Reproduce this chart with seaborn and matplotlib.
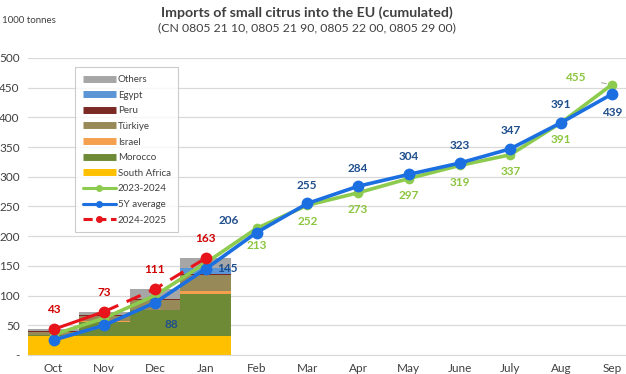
import numpy as np
import pandas as pd
import matplotlib
matplotlib.use("Agg")
import matplotlib.pyplot as plt
from matplotlib.lines import Line2D
import seaborn as sns

months = ['Oct', 'Nov', 'Dec', 'Jan', 'Feb', 'Mar', 'Apr', 'May', 'June', 'July', 'Aug', 'Sep']

# 2024-2025 imports by origin, Oct-Jan (1000 t, cumulated)
south_africa = [32, 32, 32, 32]
morocco = [1, 24, 43, 70]
israel = [0, 1, 1, 6]
turkiye = [5, 8, 16, 26]
peru = [2, 2, 2, 2]
egypt = [0, 1, 1, 11]
others = [3, 5, 16, 16]

season_2324 = [34, 62, 100, 155, 213, 252, 273, 297, 319, 337, 391, 455]
avg_5y = [25, 50, 88, 145, 206, 255, 284, 304, 323, 347, 391, 439]
season_2425 = [43, 73, 111, 163]

origins = ['South Africa', 'Morocco', 'Israel', 'Türkiye', 'Peru', 'Egypt', 'Others']
colors = {'South Africa': '#FFC000', 'Morocco': '#6F8A36', 'Israel': '#F4A04F',
          'Türkiye': '#988A58', 'Peru': '#7A2A22', 'Egypt': '#5B95D5', 'Others': '#A6A6A6'}

df = pd.DataFrame({'South Africa': south_africa, 'Morocco': morocco, 'Israel': israel,
                   'Türkiye': turkiye, 'Peru': peru, 'Egypt': egypt, 'Others': others})
df['x'] = np.arange(len(df))
cum = df[origins].cumsum(axis=1)

sns.set_style('white')
plt.rcParams['font.family'] = ['Lato', 'DejaVu Sans']
fig = plt.figure(figsize=(6.26, 3.74), dpi=100)
ax = fig.add_axes([0.045, 0.051, 0.955, 0.794])

# stacked bars: draw cumulative totals, tallest first
for name in reversed(origins):
    sns.barplot(x=df['x'], y=cum[name], color=colors[name], width=1.0,
                saturation=1, linewidth=0, edgecolor='none', ax=ax, zorder=2)

xs = np.arange(len(months))
green = '#8DCB4F'
blue = '#1B6FE0'
red = '#E8141B'

sns.lineplot(x=xs, y=season_2324, color=green, lw=2.6, marker='o', ms=7,
             markeredgewidth=0, ax=ax, zorder=4)
sns.lineplot(x=xs, y=avg_5y, color=blue, lw=2.6, marker='o', ms=8.5,
             markeredgewidth=0, ax=ax, zorder=5)
x25 = xs[:len(season_2425)]
ax.plot(x25[:2], season_2425[:2], color=red, lw=2.2, zorder=6)
ax.plot(x25[1:], season_2425[1:], color=red, lw=2.2, ls=(0, (5, 3)), zorder=6)
ax.plot(x25, season_2425, 'o', color=red, ms=8.5, markeredgewidth=0, zorder=7)

# data labels
dk_blue = '#1F4E8C'
lbl_green = '#8CC63F'
dk_red = '#D00000'
fs = 8.5
for i, v in enumerate(season_2425):
    ax.annotate(str(v), (i, v), xytext=(0, 10), textcoords='offset points', ha='center',
                va='bottom', color=dk_red, fontsize=fs, fontweight='bold')
for i in range(5, 11):
    ax.annotate(str(avg_5y[i]), (i, avg_5y[i]), xytext=(0, 9), textcoords='offset points',
                ha='center', va='bottom', color=dk_blue, fontsize=fs, fontweight='bold')
for i in range(4, 11):
    ax.annotate(str(season_2324[i]), (i, season_2324[i]), xytext=(0, -8), textcoords='offset points',
                ha='center', va='top', color=lbl_green, fontsize=fs, fontweight='bold')
ax.annotate(str(avg_5y[4]), (4, avg_5y[4]), xytext=(-20, 9), textcoords='offset points',
            ha='center', va='center', color=dk_blue, fontsize=fs, fontweight='bold',
            arrowprops=dict(arrowstyle='-', color='#A0A0A0', lw=0.7, shrinkA=8, shrinkB=4))
ax.annotate(str(avg_5y[3]), (3, avg_5y[3]), xytext=(8, 0), textcoords='offset points',
            ha='left', va='center', color=dk_blue, fontsize=fs, fontweight='bold')
ax.annotate(str(avg_5y[2]), (2, avg_5y[2]), xytext=(12, -16), textcoords='offset points',
            ha='center', va='center', color=dk_blue, fontsize=fs, fontweight='bold',
            arrowprops=dict(arrowstyle='-', color='#A0A0A0', lw=0.7, shrinkA=6, shrinkB=4))
ax.annotate(str(avg_5y[11]), (11, avg_5y[11]), xytext=(0, -9), textcoords='offset points',
            ha='center', va='top', color=dk_blue, fontsize=fs, fontweight='bold')
ax.annotate(str(season_2324[11]), (11, season_2324[11]), xytext=(-26, 5), textcoords='offset points',
            ha='center', va='center', color=lbl_green, fontsize=fs, fontweight='bold',
            arrowprops=dict(arrowstyle='-', color='#A0A0A0', lw=0.7, shrinkA=9, shrinkB=4))

ax.set_xlim(-0.5, 11.28)
ax.set_ylim(0, 500)
ax.set_xticks(xs)
ax.set_xticklabels(months)
ax.set_yticks(np.arange(0, 501, 50))
ax.set_yticklabels(['-'] + [str(v) for v in range(50, 501, 50)])
ax.tick_params(axis='both', labelsize=8.5, colors='#404040', length=0, pad=6)
ax.set_xlabel('')
ax.set_ylabel('')
ax.grid(axis='y', color='#D9D9D9', lw=0.9, zorder=0)
ax.set_axisbelow(True)
for s in ['top', 'right', 'left']:
    ax.spines[s].set_visible(False)
ax.spines['bottom'].set_color('#D9D9D9')

handles = [Line2D([], [], color=colors[n], lw=5, solid_capstyle='butt') for n in reversed(origins)]
labels = list(reversed(origins))
handles += [Line2D([], [], color=green, lw=2.2, marker='o', ms=4),
            Line2D([], [], color=blue, lw=2.2, marker='o', ms=4),
            Line2D([], [], color=red, lw=2.2, ls=(0, (3, 1.5)), marker='o', ms=4)]
labels += ['2023-2024', '5Y average', '2024-2025']
leg = ax.legend(handles, labels, loc='upper left', bbox_to_anchor=(0.07, 0.985), fontsize=7,
                frameon=True, fancybox=False, edgecolor='#BFBFBF', handlelength=3.4,
                labelspacing=0.68, borderpad=0.8, handletextpad=0.2, labelcolor='#404040')
leg.get_frame().set_linewidth(0.8)

fig.text(0.49, 0.967, 'Imports of small citrus into the EU (cumulated)', ha='center', va='center',
         fontsize=10.2, fontweight='bold', color='#404040')
fig.text(0.49, 0.925, '(CN 0805 21 10, 0805 21 90, 0805 22 00, 0805 29 00)', ha='center',
         va='center', fontsize=8.8, color='#404040')
fig.text(0.003, 0.945, '1000 tonnes', ha='left', va='center', fontsize=7, color='#404040')

fig.savefig('out.png', dpi=100)
